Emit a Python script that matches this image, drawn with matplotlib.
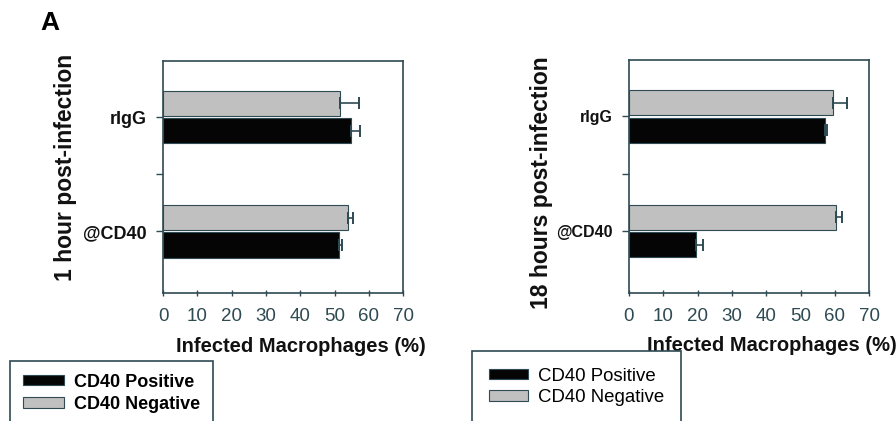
import numpy as np
import matplotlib
matplotlib.use('Agg')
import matplotlib.pyplot as plt

plt.rcParams['font.family'] = ['Liberation Sans', 'DejaVu Sans']

groups = ['@CD40', 'rIgG']
series = ['CD40 Positive', 'CD40 Negative']
colors = ['#050505', '#c0c0c0']
frame = '#2e4a52'

# values, order follows groups (@CD40, rIgG)
pos_1h = [51.3, 54.8]
pos_1h_err = [1.0, 2.6]
neg_1h = [53.9, 51.6]
neg_1h_err = [1.4, 5.6]

pos_18h = [19.4, 57.2]
pos_18h_err = [2.2, 0.6]
neg_18h = [60.3, 59.5]
neg_18h_err = [1.9, 4.1]

ylabels = ['1 hour post-infection', '18 hours post-infection']

fig = plt.figure(figsize=(8.96, 4.21), dpi=100)
ax1 = fig.add_axes([0.182, 0.304, 0.268, 0.551])
ax2 = fig.add_axes([0.702, 0.304, 0.268, 0.553])

y = np.arange(len(groups))
h = 0.22
off = 0.12

def draw(ax, pos, pos_err, neg, neg_err, ylab, tick_fs, ylab_xy, xlab_xy):
    b1 = ax.barh(y - off, pos, height=h, color=colors[0], edgecolor=frame, linewidth=0.8,
                 label=series[0])
    b2 = ax.barh(y + off, neg, height=h, color=colors[1], edgecolor=frame, linewidth=0.8,
                 label=series[1])
    ax.errorbar(pos, y - off, xerr=[np.zeros(len(pos)), pos_err], fmt='none',
                ecolor=frame, elinewidth=1.2, capsize=4, capthick=1.4)
    ax.errorbar(neg, y + off, xerr=[np.zeros(len(neg)), neg_err], fmt='none',
                ecolor=frame, elinewidth=1.2, capsize=4, capthick=1.4)
    ax.set_xlim(0, 70)
    ax.set_ylim(-0.54, 1.49)
    ax.set_xticks(np.arange(0, 71, 10))
    ax.set_yticks([0, 0.5, 1])
    ax.set_yticklabels([groups[0], '', groups[1]], fontweight='bold', fontsize=tick_fs)
    ax.tick_params(axis='x', labelsize=13.5, colors=frame, length=4, width=1, pad=9,
                   direction='inout')
    ax.tick_params(axis='y', colors=frame, labelcolor='#111111', length=5, width=1, pad=7)
    for sp in ax.spines.values():
        sp.set_color(frame)
        sp.set_linewidth(1.2)
    ax.set_ylabel(ylab, fontsize=16.5, fontweight='bold', color='#111111')
    ax.yaxis.set_label_coords(*ylab_xy)
    ax.set_xlabel('Infected Macrophages (%)', fontsize=14.5, fontweight='bold', color='#111111')
    ax.xaxis.set_label_coords(*xlab_xy)
    return b1, b2

h1 = draw(ax1, pos_1h, pos_1h_err, neg_1h, neg_1h_err, ylabels[0], 13,
          (-0.36, 0.54), (0.575, -0.19))
h2 = draw(ax2, pos_18h, pos_18h_err, neg_18h, neg_18h_err, ylabels[1], 11.5,
          (-0.318, 0.476), (0.596, -0.185))

leg_kw = dict(loc='upper left', fancybox=False, handleheight=0.5, handletextpad=0.55,
              framealpha=1, borderaxespad=0)
leg1 = fig.legend(h1, series, bbox_to_anchor=(10 / 896, 1 - 361 / 421),
                  prop={'weight': 'bold', 'size': 13}, handlelength=2.3,
                  labelspacing=0.3, borderpad=0.7, **leg_kw)
leg2 = fig.legend(h2, series, bbox_to_anchor=(472 / 896, 1 - 351 / 421),
                  prop={'size': 13.4}, handlelength=2.1,
                  labelspacing=0.25, borderpad=0.9, **leg_kw)
for lg in (leg1, leg2):
    lg.get_frame().set_edgecolor(frame)
    lg.get_frame().set_linewidth(1.2)

fig.text(40 / 896, 1 - 30 / 421, 'A', fontsize=19, fontweight='bold', ha='left', va='baseline')

fig.savefig('out.png', dpi=100)
